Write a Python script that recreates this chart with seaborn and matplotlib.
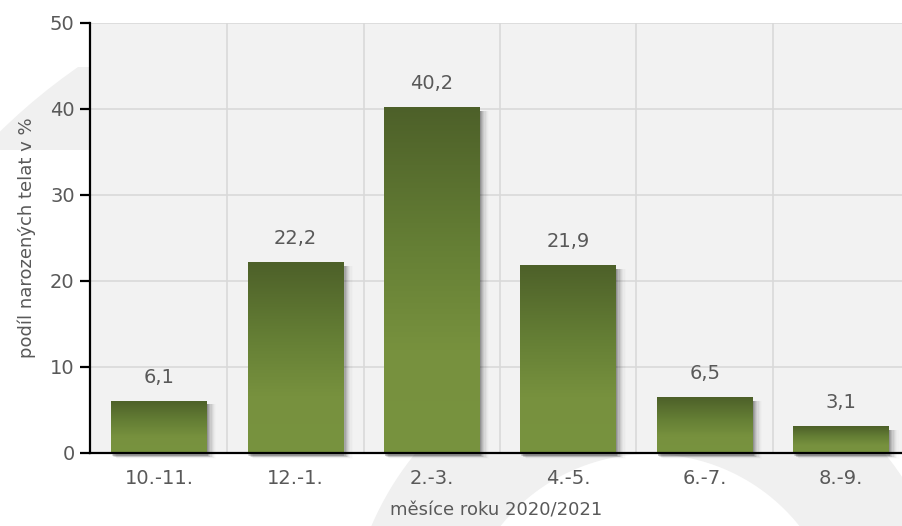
import numpy as np
import pandas as pd
import matplotlib.pyplot as plt
import matplotlib.patches as mpatches
import matplotlib.colors as mcolors
from matplotlib.path import Path
import seaborn as sns

# Data
periods = ["10.-11.", "12.-1.", "2.-3.", "4.-5.", "6.-7.", "8.-9."]
shares = [6.1, 22.2, 40.2, 21.9, 6.5, 3.1]
value_labels = ["6,1", "22,2", "40,2", "21,9", "6,5", "3,1"]

df = pd.DataFrame({"obdobi": periods, "podil": shares})

text_col = "#595959"
grid_col = "#d9d9d9"
bg_col = "#f2f2f2"
wm_col = "#f0f0f0"

sns.set_style("white")
plt.rcParams["font.family"] = ["DejaVu Sans"]

W, H = 903, 526
fig = plt.figure(figsize=(W / 100, H / 100), dpi=100)
fig.patch.set_facecolor("white")


def to_fig(pts):
    # pixel coords (y from top) -> figure fraction
    return np.c_[pts[:, 0] / W, 1 - pts[:, 1] / H]


# faint watermark ring behind the chart
th = np.linspace(0, 2 * np.pi, 200)
cx, cy = 650, 645
outer = np.c_[cx + 303 * np.cos(th), cy + 303 * np.sin(th)]
inner = np.c_[cx + 191 * np.cos(th[::-1]), cy + 191 * np.sin(th[::-1])]
codes = ([Path.MOVETO] + [Path.LINETO] * 199) * 2
ring = mpatches.PathPatch(Path(to_fig(np.r_[outer, inner]), codes),
                          transform=fig.transFigure, facecolor=wm_col,
                          edgecolor="none", zorder=-5)
fig.patches.append(ring)

# piece of the watermark left of the y axis
disk = to_fig(np.c_[420 + 600 * np.cos(th), 560 + 600 * np.sin(th)])
p2 = mpatches.Polygon(disk, closed=True, transform=fig.transFigure,
                      facecolor=wm_col, edgecolor="none", zorder=-5)
fig.patches.append(p2)
clip = mpatches.Rectangle((0, 1 - 150 / H), 90 / W, 83 / H,
                          transform=fig.transFigure)
p2.set_clip_path(clip)

ax = fig.add_axes([90 / W, 1 - 453 / H, (W - 90) / W, 430 / H])
ax.set_facecolor(bg_col)

sns.barplot(data=df, x="obdobi", y="podil", color="#6b8536", width=0.7,
            linewidth=0, edgecolor="none", ax=ax, zorder=3)

# vertical separators between categories and horizontal grid
for b in np.arange(0.5, len(periods) - 0.5, 1):
    ax.axvline(b, color=grid_col, lw=1.2, zorder=1)
for t in range(10, 51, 10):
    ax.axhline(t, color=grid_col, lw=1.2, zorder=1)

# gradient fill + soft shadow on each bar
cmap = mcolors.LinearSegmentedColormap.from_list(
    "olive", [(0, "#78933f"), (0.3, "#77913e"), (0.6, "#657f35"), (1, "#4d6029")])
grad = np.linspace(0, 1, 256).reshape(-1, 1)
for i, patch in enumerate(ax.patches[:len(shares)]):
    x0, w, h = patch.get_x(), patch.get_width(), patch.get_height()
    for k, a in enumerate([0.13, 0.10, 0.08, 0.06, 0.045, 0.03, 0.02, 0.012]):
        off = (k + 1) * 0.009
        sh = mpatches.Rectangle((x0 + off * 0.6, -0.25 - off * 6), w + off * 0.4,
                                h - 0.2 + off * 6, facecolor="black", alpha=a,
                                edgecolor="none", zorder=2, clip_on=False)
        ax.add_patch(sh)
    im = ax.imshow(grad, extent=(x0, x0 + w, 0, h), origin="lower", cmap=cmap,
                   aspect="auto", zorder=3.5, interpolation="bicubic")
    im.set_clip_path(patch)
    ax.annotate(value_labels[i], (x0 + w / 2, h), xytext=(0, 10),
                textcoords="offset points", ha="center", va="bottom",
                fontsize=14, color=text_col)

ax.set_xlim(-0.505, 5.454)
ax.set_ylim(0, 50)
ax.set_yticks(range(0, 51, 10))

for s in ["top", "right"]:
    ax.spines[s].set_visible(False)
for s in ["left", "bottom"]:
    ax.spines[s].set_color("black")
    ax.spines[s].set_linewidth(1.6)
    ax.spines[s].set_zorder(5)

ax.tick_params(axis="y", left=True, length=7, width=1.6, color="black",
               labelsize=14, labelcolor=text_col, pad=4)
ax.tick_params(axis="x", bottom=False, labelsize=14, labelcolor=text_col, pad=8)

ax.set_xlabel("měsíce roku 2020/2021", fontsize=13, color=text_col, labelpad=10)
ax.set_ylabel("podíl narozených telat v %", fontsize=13, color=text_col, labelpad=10)

fig.savefig("out.png", dpi=100, facecolor="white")
